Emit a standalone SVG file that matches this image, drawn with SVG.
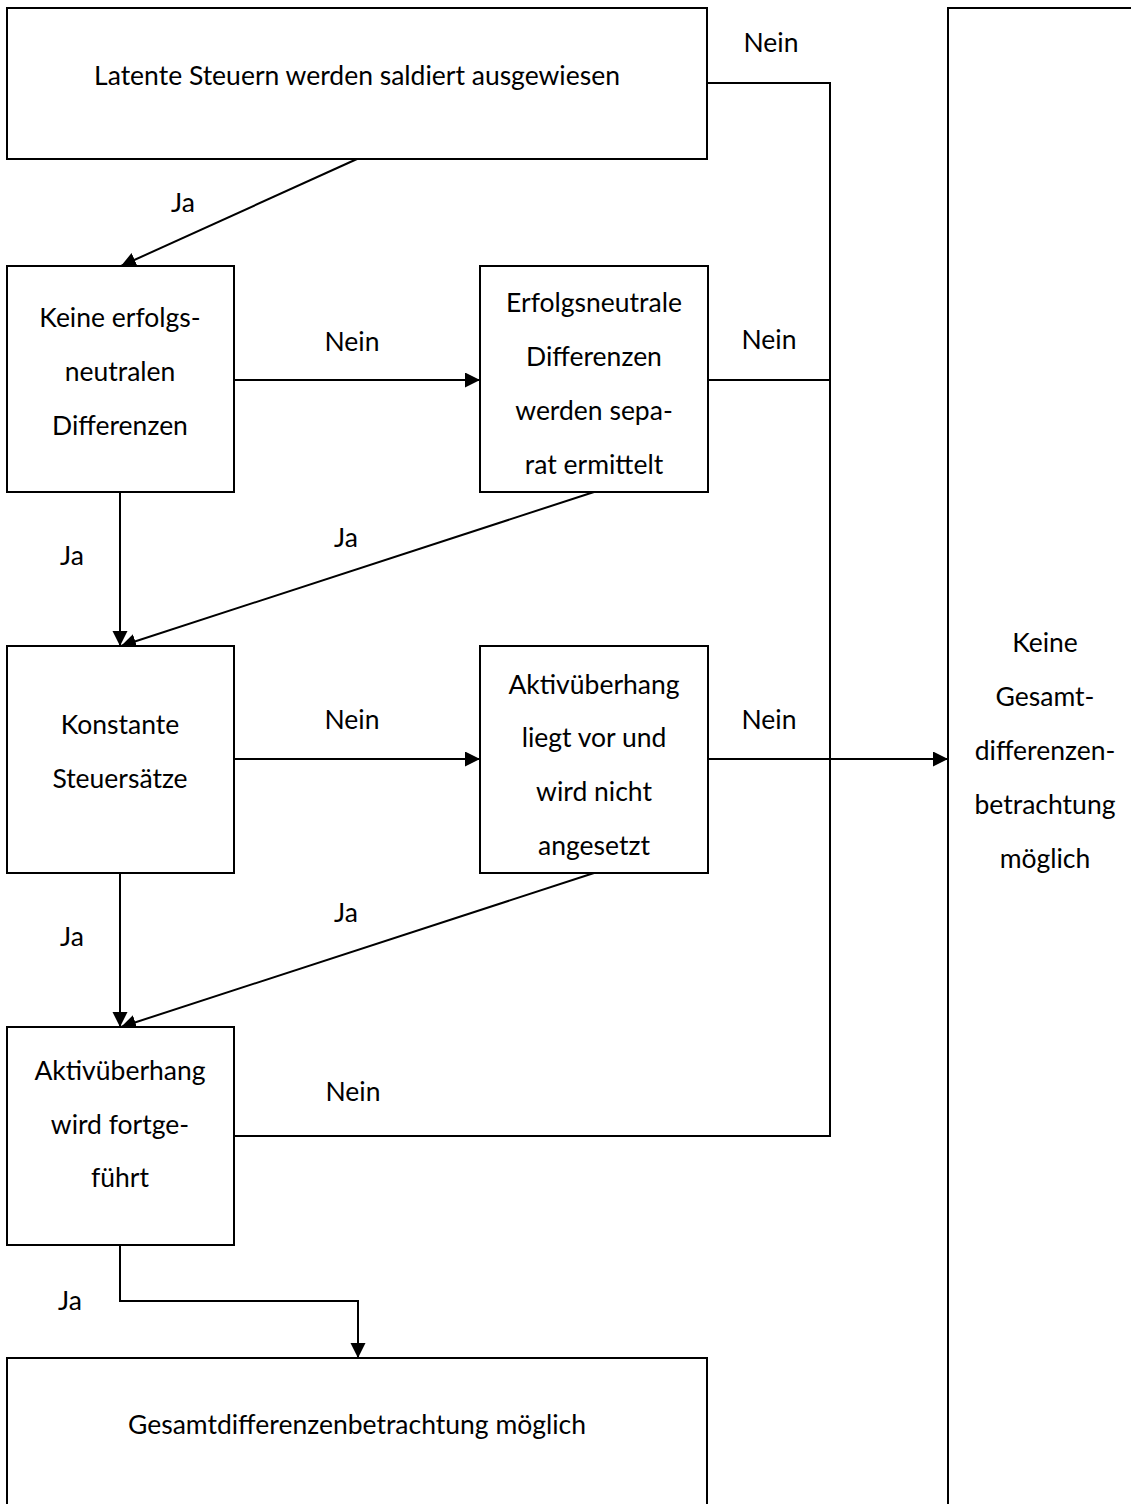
<svg xmlns="http://www.w3.org/2000/svg" width="1131" height="1504" viewBox="0 0 1131 1504">
<style>
  rect.box { fill: #ffffff; stroke: #000000; stroke-width: 2; }
  .conn { fill: none; stroke: #000000; stroke-width: 2; }
  text { font-family: Lato, "Open Sans", sans-serif; font-size: 26.5px; fill: #000000; text-anchor: middle; }
</style>
<defs>
  <marker id="arr" markerUnits="userSpaceOnUse" markerWidth="17" markerHeight="16" refX="15" refY="7.5" orient="auto">
    <path d="M0,0 L15,7.5 L0,15 z" fill="#000000"/>
  </marker>
</defs>
<rect width="1131" height="1504" fill="#ffffff"/>
<g id="connectors">
  <path class="conn" d="M357,159 L121,266" marker-end="url(#arr)"/>
  <path class="conn" d="M707,83 L830,83 L830,1136 L234,1136"/>
  <path class="conn" d="M708,380 L830,380"/>
  <path class="conn" d="M234,380 L480,380" marker-end="url(#arr)"/>
  <path class="conn" d="M120,492 L120,646" marker-end="url(#arr)"/>
  <path class="conn" d="M594,492 L121,646" marker-end="url(#arr)"/>
  <path class="conn" d="M234,759 L480,759" marker-end="url(#arr)"/>
  <path class="conn" d="M708,759 L948,759" marker-end="url(#arr)"/>
  <path class="conn" d="M120,873 L120,1027" marker-end="url(#arr)"/>
  <path class="conn" d="M594,873 L121,1027" marker-end="url(#arr)"/>
  <path class="conn" d="M120,1245 L120,1301 L358,1301 L358,1358" marker-end="url(#arr)"/>
  <text x="771" y="52">Nein</text>
  <text x="183" y="212">Ja</text>
  <text x="352" y="351">Nein</text>
  <text x="769" y="349">Nein</text>
  <text x="72" y="565">Ja</text>
  <text x="346" y="547">Ja</text>
  <text x="352" y="729">Nein</text>
  <text x="769" y="729">Nein</text>
  <text x="72" y="946">Ja</text>
  <text x="346" y="922">Ja</text>
  <text x="353" y="1101">Nein</text>
  <text x="70" y="1310">Ja</text>
</g>
<g id="n_latent">
  <rect class="box" x="7" y="8" width="700" height="151"/>
  <text x="357" y="85">Latente Steuern werden saldiert ausgewiesen</text>
</g>
<g id="n_keine_erfolg">
  <rect class="box" x="7" y="266" width="227" height="226"/>
  <text x="120" y="327">Keine erfolgs-</text>
  <text x="120" y="381">neutralen</text>
  <text x="120" y="435">Differenzen</text>
</g>
<g id="n_erfolgsneutral">
  <rect class="box" x="480" y="266" width="228" height="226"/>
  <text x="594" y="312">Erfolgsneutrale</text>
  <text x="594" y="366">Differenzen</text>
  <text x="594" y="420">werden sepa-</text>
  <text x="594" y="474">rat ermittelt</text>
</g>
<g id="n_konstant">
  <rect class="box" x="7" y="646" width="227" height="227"/>
  <text x="120" y="734">Konstante</text>
  <text x="120" y="788">Steuersätze</text>
</g>
<g id="n_aktiv_liegt">
  <rect class="box" x="480" y="646" width="228" height="227"/>
  <text x="594" y="694">Aktivüberhang</text>
  <text x="594" y="747">liegt vor und</text>
  <text x="594" y="801">wird nicht</text>
  <text x="594" y="855">angesetzt</text>
</g>
<g id="n_aktiv_fort">
  <rect class="box" x="7" y="1027" width="227" height="218"/>
  <text x="120" y="1080">Aktivüberhang</text>
  <text x="120" y="1134">wird fortge-</text>
  <text x="120" y="1187">führt</text>
</g>
<g id="n_gesamt">
  <rect class="box" x="7" y="1358" width="700" height="160"/>
  <text x="357" y="1434">Gesamtdifferenzenbetrachtung möglich</text>
</g>
<g id="n_keine_gesamt">
  <rect class="box" x="948" y="8" width="200" height="1510"/>
  <text x="1045" y="652">Keine</text>
  <text x="1045" y="706">Gesamt-</text>
  <text x="1045" y="760">differenzen-</text>
  <text x="1045" y="814">betrachtung</text>
  <text x="1045" y="868">möglich</text>
</g>
</svg>
